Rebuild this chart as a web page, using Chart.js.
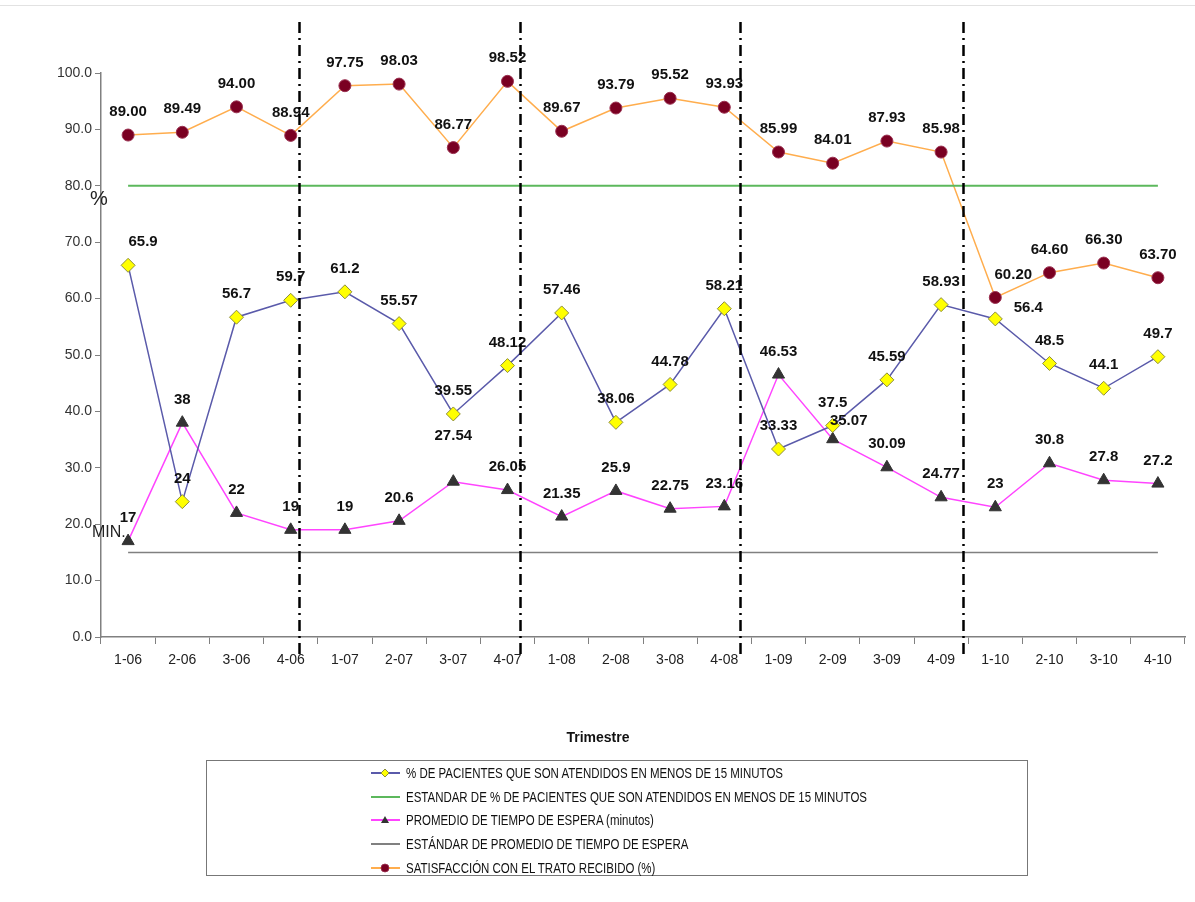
<!DOCTYPE html>
<html>
<head>
<meta charset="utf-8">
<script src="https://cdn.jsdelivr.net/npm/chart.js@4.4.1/dist/chart.umd.min.js"></script>
<style>
  html, body { margin: 0; padding: 0; background: #fff; }
  #wrap { position: relative; width: 1195px; height: 902px; overflow: hidden; }
  #topline { position: absolute; left: 0; top: 5px; width: 1195px; height: 0; border-top: 1px solid #e2e2e2; }
  canvas { position: absolute; left: 0; top: 0; }
  #xtitle { position: absolute; left: 548px; top: 729px; width: 100px; text-align: center;
            font: bold 14px "Liberation Sans", Arial, sans-serif; color: #111; }
  #legend { position: absolute; left: 206px; top: 760px; width: 822px; height: 116px;
            border: 1.5px solid #777; box-sizing: border-box; }
  .item { position: absolute; left: 164px; height: 20px; display: flex; align-items: center;
          font: 14px "Liberation Sans", Arial, sans-serif; color: #111; white-space: nowrap; }
  .item svg { margin-right: 6px; flex: none; }
  .item span { display: inline-block; transform: scaleX(0.82); transform-origin: 0 50%; }
</style>
</head>
<body>
<div id="wrap">
  <div id="topline"></div>
  <canvas id="chart" width="1195" height="902"></canvas>
  <div id="xtitle">Trimestre</div>
  <div id="legend"></div>
</div>
<script>
// Quarters (trimestre-año)
const categories = ['1-06','2-06','3-06','4-06','1-07','2-07','3-07','4-07','1-08','2-08',
                    '3-08','4-08','1-09','2-09','3-09','4-09','1-10','2-10','3-10','4-10'];

// % de pacientes atendidos en menos de 15 minutos
const pctAtendidos = [65.9, 24, 56.7, 59.7, 61.2, 55.57, 39.55, 48.12, 57.46, 38.06,
                      44.78, 58.21, 33.33, 37.5, 45.59, 58.93, 56.4, 48.5, 44.1, 49.7];

// Promedio de tiempo de espera (minutos)
const tiempoEspera = [17, 38, 22, 19, 19, 20.6, 27.54, 26.05, 21.35, 25.9,
                      22.75, 23.16, 46.53, 35.07, 30.09, 24.77, 23, 30.8, 27.8, 27.2];

// Satisfacción con el trato recibido (%)
const satisfaccion = [89.00, 89.49, 94.00, 88.94, 97.75, 98.03, 86.77, 98.52, 89.67, 93.79,
                      95.52, 93.93, 85.99, 84.01, 87.93, 85.98, 60.20, 64.60, 66.30, 63.70];

// Standards
const estandarPct = 80;
const estandarTiempo = 15;

// Year separators, in category-index units
const separadores = [3.15, 7.23, 11.29, 15.40];

const yTicks = [0, 10, 20, 30, 40, 50, 60, 70, 80, 90, 100];

const legendLabels = [
  '% DE PACIENTES QUE SON ATENDIDOS EN MENOS DE 15 MINUTOS',
  'ESTANDAR DE % DE PACIENTES QUE SON ATENDIDOS EN MENOS DE 15 MINUTOS',
  'PROMEDIO DE TIEMPO DE ESPERA (minutos)',
  'ESTÁNDAR DE PROMEDIO DE TIEMPO DE ESPERA',
  'SATISFACCIÓN CON EL TRATO RECIBIDO (%)'
];

const C = {
  pctLine: '#5a5aaa', pctFill: '#ffff00', pctEdge: '#8c8c3c',
  green: '#5cb85c',
  pink: '#ff44ff', tri: '#333333',
  gray: '#808080',
  orange: '#ffad4d', dot: '#7a0022', dotEdge: '#9a3050'
};

// Label nudges (dx, dy) for crowded points
const nudges = {
  0: { 0: [15, 0], 16: [33, 12] },
  2: { 6: [0, -23], 13: [16, 5] },
  4: { 16: [18, 0] }
};
const labelFmt = {
  0: v => String(v),
  2: v => String(v),
  4: v => v.toFixed(2)
};

const dataLabels = {
  id: 'dataLabels',
  afterDatasetsDraw(chart) {
    const ctx = chart.ctx;
    ctx.save();
    ctx.font = 'bold 15px "Liberation Sans", Arial, sans-serif';
    ctx.fillStyle = '#111';
    ctx.textAlign = 'center';
    ctx.textBaseline = 'middle';
    Object.keys(labelFmt).forEach(k => {
      const di = +k;
      const meta = chart.getDatasetMeta(di);
      const vals = chart.data.datasets[di].data;
      meta.data.forEach((pt, i) => {
        const n = (nudges[di] && nudges[di][i]) || [0, 0];
        ctx.fillText(labelFmt[di](vals[i]), pt.x + n[0], pt.y - 23 + n[1]);
      });
    });
    ctx.restore();
  }
};

const extras = {
  id: 'extras',
  afterDraw(chart) {
    const ctx = chart.ctx;
    const xs = chart.scales.x;
    const ys = chart.scales.y;
    ctx.save();
    // year separators
    ctx.strokeStyle = '#000';
    ctx.lineWidth = 2.5;
    ctx.setLineDash([11, 5, 2, 5]);
    separadores.forEach(p => {
      const x = Math.round(xs.getPixelForValue(p)) + 0.5;
      ctx.beginPath();
      ctx.moveTo(x, 22);
      ctx.lineTo(x, ys.bottom + 18);
      ctx.stroke();
    });
    ctx.setLineDash([]);
    // axis annotations
    ctx.fillStyle = '#222';
    ctx.textBaseline = 'middle';
    ctx.textAlign = 'left';
    ctx.font = '16px "Liberation Sans", Arial, sans-serif';
    ctx.fillText('MIN.', ys.left + 92, ys.getPixelForValue(18.6));
    ctx.font = '20px "Liberation Sans", Arial, sans-serif';
    ctx.fillText('%', ys.left + 90, ys.getPixelForValue(77.5));
    ctx.restore();
  }
};

const flat = v => categories.map(() => v);

new Chart(document.getElementById('chart'), {
  type: 'line',
  data: {
    labels: categories,
    datasets: [
      { label: legendLabels[0], data: pctAtendidos, borderColor: C.pctLine, borderWidth: 1.5,
        pointStyle: 'rectRot', pointRadius: 7, pointBackgroundColor: C.pctFill,
        pointBorderColor: C.pctEdge, pointBorderWidth: 1 },
      { label: legendLabels[1], data: flat(estandarPct), borderColor: C.green, borderWidth: 2, pointRadius: 0 },
      { label: legendLabels[2], data: tiempoEspera, borderColor: C.pink, borderWidth: 1.5,
        pointStyle: 'triangle', pointRadius: 7, pointBackgroundColor: C.tri,
        pointBorderColor: C.tri, pointBorderWidth: 1 },
      { label: legendLabels[3], data: flat(estandarTiempo), borderColor: C.gray, borderWidth: 1.5, pointRadius: 0 },
      { label: legendLabels[4], data: satisfaccion, borderColor: C.orange, borderWidth: 1.5,
        pointStyle: 'circle', pointRadius: 6, pointBackgroundColor: C.dot,
        pointBorderColor: C.dotEdge, pointBorderWidth: 1 }
    ]
  },
  options: {
    responsive: false,
    animation: false,
    events: [],
    layout: { padding: { left: 0, top: 73, right: 10, bottom: 225 } },
    elements: { line: { tension: 0 } },
    datasets: { line: { clip: false } },
    plugins: { legend: { display: false }, tooltip: { enabled: false } },
    scales: {
      x: {
        offset: true,
        grid: { offset: true, drawOnChartArea: false, drawTicks: true, tickLength: 7, color: '#808080' },
        border: { display: true, color: '#808080', width: 1.5 },
        ticks: { color: '#222', font: { size: 14, family: '"Liberation Sans", Arial, sans-serif' },
                 padding: 8, maxRotation: 0, autoSkip: false },
        afterFit(s) { s.height = 40; }
      },
      y: {
        min: 0, max: 100,
        afterBuildTicks(s) { s.ticks = yTicks.map(v => ({ value: v })); },
        grid: { drawOnChartArea: false, drawTicks: true, tickLength: 6, color: '#808080' },
        border: { display: true, color: '#808080', width: 1.5 },
        ticks: { color: '#333', font: { size: 14, family: '"Liberation Sans", Arial, sans-serif' },
                 padding: 3, callback: v => Number(v).toFixed(1) },
        afterFit(s) { s.width = 101; }
      }
    }
  },
  plugins: [dataLabels, extras]
});

// Legend box
const marks = [
  { color: C.pctLine, shape: 'diamond', fill: C.pctFill, edge: C.pctEdge },
  { color: C.green },
  { color: C.pink, shape: 'triangle', fill: C.tri, edge: C.tri },
  { color: C.gray },
  { color: C.orange, shape: 'circle', fill: C.dot, edge: C.dotEdge }
];
const legend = document.getElementById('legend');
legendLabels.forEach((txt, i) => {
  const m = marks[i];
  let sym = '';
  if (m.shape === 'diamond') sym = `<polygon points="14,6 18,10 14,14 10,10" fill="${m.fill}" stroke="${m.edge}" stroke-width="1"/>`;
  if (m.shape === 'triangle') sym = `<polygon points="14,6 18,13 10,13" fill="${m.fill}"/>`;
  if (m.shape === 'circle') sym = `<circle cx="14" cy="10" r="4" fill="${m.fill}" stroke="${m.edge}" stroke-width="0.8"/>`;
  const div = document.createElement('div');
  div.className = 'item';
  div.style.top = (2 + i * 23.7) + 'px';
  div.innerHTML = `<svg width="29" height="20"><line x1="0" y1="10" x2="29" y2="10" stroke="${m.color}" stroke-width="2"/>${sym}</svg><span>${txt}</span>`;
  legend.appendChild(div);
});
</script>
</body>
</html>
